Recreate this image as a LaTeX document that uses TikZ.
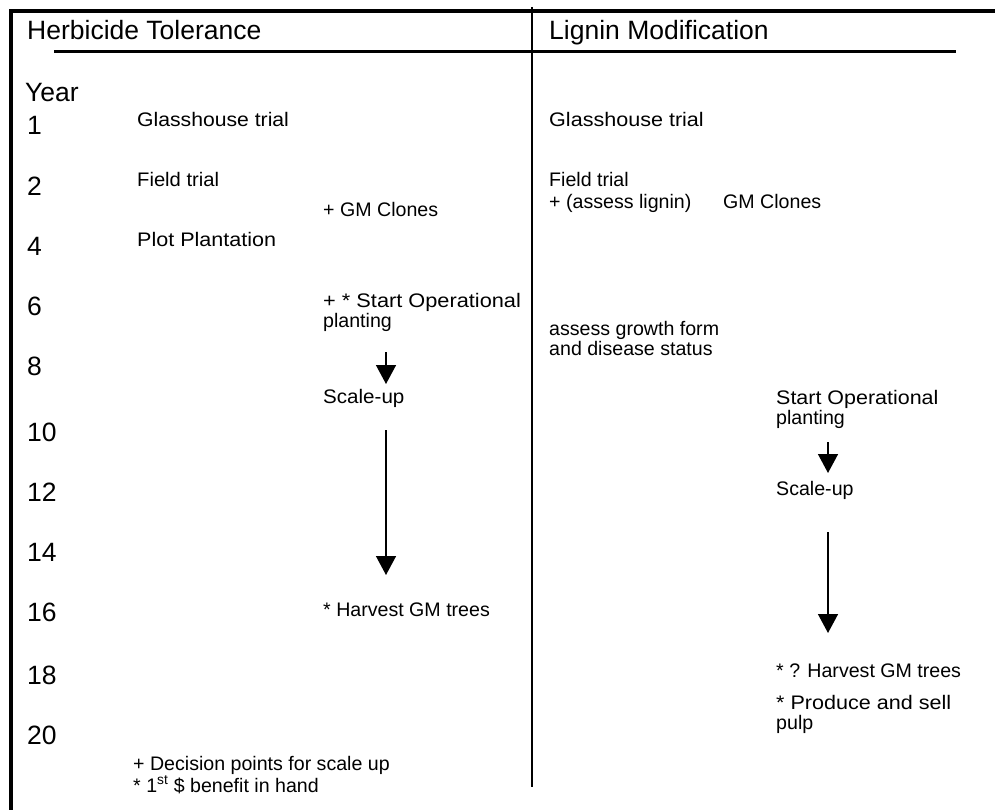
\documentclass[tikz,border=0pt]{standalone}
\usepackage{fontspec}
\usepackage{graphicx}
\setmainfont{Liberation Sans}
\usetikzlibrary{arrows.meta}
\newcommand{\wtext}[2]{\scalebox{#1}[1]{#2}}
\begin{document}
\begin{tikzpicture}[x=1pt,y=-1pt,
  body/.style={anchor=base west, inner sep=0pt, font=\fontsize{19.6}{20}\selectfont, align=left},
  big/.style={anchor=base west, inner sep=0pt, font=\fontsize{26.5}{28}\selectfont},
  flow/.style={line width=1.5pt, -{Triangle[width=20pt,length=19pt]}},
  frameline/.style={line width=4pt},
  rule/.style={line width=3pt},
  divider/.style={line width=1.8pt}]
\useasboundingbox (0,0) rectangle (995,810);
% frame
\draw[frameline] (11,810) -- (11,11) -- (995,11);
\draw[rule] (54,51.5) -- (956,51.5);
\draw[divider] (532,7) -- (532,787);
% headers
\node[big] (hL) at (27,40) {Herbicide Tolerance};
\node[big] (hR) at (549,40) {Lignin Modification};
% years
\node[big] (yr) at (25,102) {Year};
\node[big] (y1) at (27,135) {1};
\node[big] (y2) at (27,196) {2};
\node[big] (y4) at (27,255) {4};
\node[big] (y6) at (27,315) {6};
\node[big] (y8) at (27,375) {8};
\node[big] (y10) at (27,441) {10};
\node[big] (y12) at (27,501) {12};
\node[big] (y14) at (27,561) {14};
\node[big] (y16) at (27,621) {16};
\node[big] (y18) at (27,684) {18};
\node[big] (y20) at (27,744) {20};
% left column
\node[body] (lg) at (137,127) {\wtext{1.08}{Glasshouse trial}};
\node[body] (lf) at (137,187) {\wtext{1.03}{Field trial}};
\node[body] (lc) at (323,217) {+ GM Clones};
\node[body] (lp) at (137,247) {\wtext{1.1}{Plot Plantation}};
\node[body] (ls) at (323,307) {\wtext{1.11}{+ * Start Operational}};
\node[body] (lsp) at (323,327) {planting};
\node[body] (lu) at (323,403) {\wtext{1.05}{Scale-up}};
\node[body] (lh) at (323,616) {* Harvest GM trees};
\node[body, font=\fontsize{19.6}{18.5}\selectfont] (note) at (133,792) {+ Decision points for scale up\\* 1\textsuperscript{st} \$ benefit in hand};
% right column
\node[body] (rg) at (549,127) {\wtext{1.1}{Glasshouse trial}};
\node[body] (rf) at (549,187) {Field trial};
\node[body] (ra) at (549,209) {+ (assess lignin)};
\node[body] (rc) at (723,209) {GM Clones};
\node[body] (rd) at (549,355) {assess growth form\\and disease status};
\node[body] (rs) at (776,404) {\wtext{1.095}{Start Operational}};
\node[body] (rsp) at (776,424) {planting};
\node[body] (ru) at (776,495) {Scale-up};
\node[body] (rh) at (776,677) {* ? Harvest GM trees};
\node[body] (rp) at (776,709) {\wtext{1.1}{* Produce and sell}};
\node[body] (rpp) at (776,729) {pulp};
% arrows
\coordinate (la1) at (386,352);
\coordinate (la2) at (386,384);
\coordinate (la3) at (386,430);
\coordinate (la4) at (386,575);
\coordinate (ra1) at (828,442);
\coordinate (ra2) at (828,473);
\coordinate (ra3) at (828,532);
\coordinate (ra4) at (828,633);
\draw[flow] (la1) -- (la2);
\draw[flow] (la3) -- (la4);
\draw[flow] (ra1) -- (ra2);
\draw[flow] (ra3) -- (ra4);
\end{tikzpicture}
\end{document}
